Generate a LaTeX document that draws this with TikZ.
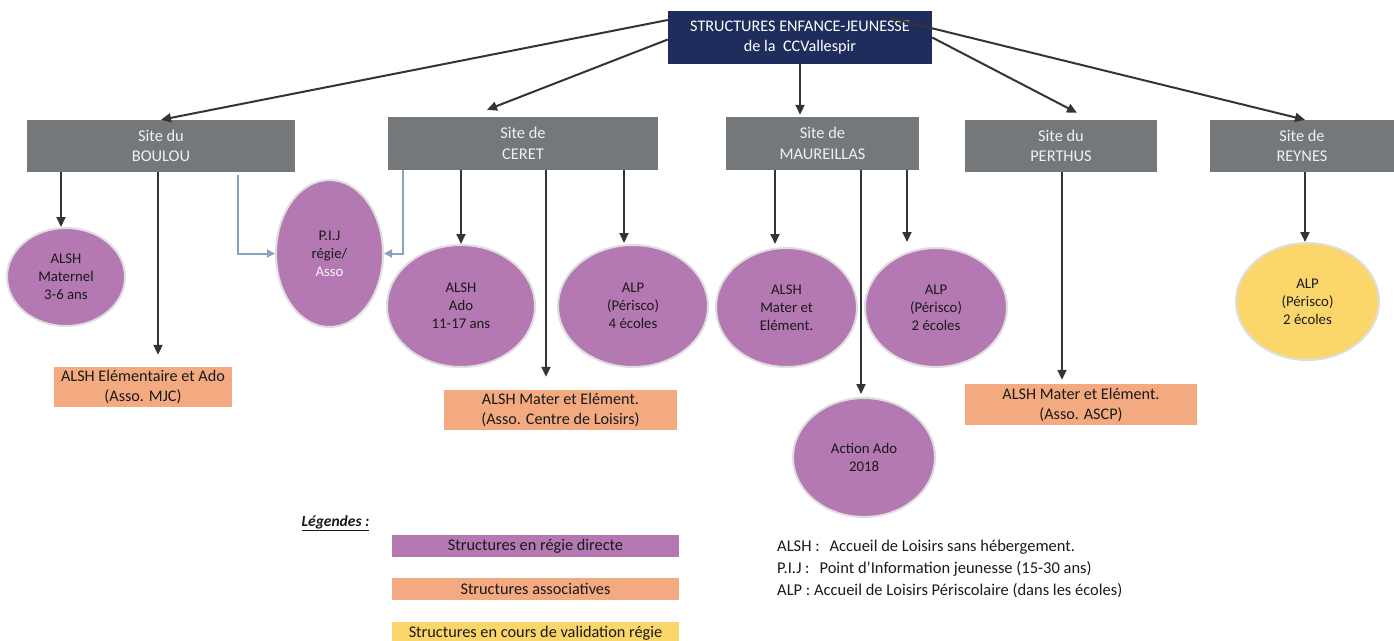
\documentclass[tikz,border=0pt]{standalone}
\usepackage{fontspec}
\setmainfont{Carlito}
\usetikzlibrary{shapes.geometric,arrows.meta,calc}
\definecolor{navy}{RGB}{31,45,92}
\definecolor{sitegray}{RGB}{117,120,123}
\definecolor{purp}{RGB}{180,120,178}
\definecolor{orng}{RGB}{244,170,128}
\definecolor{yell}{RGB}{250,214,107}
\definecolor{pijblue}{RGB}{140,163,190}
\definecolor{arrdark}{RGB}{52,52,52}
\definecolor{ringgray}{RGB}{222,222,222}
\definecolor{txtdark}{RGB}{26,26,26}
\tikzset{
  topbox/.style={fill=navy, text=white, inner sep=0pt, align=center,
    font=\fontsize{16.2}{20}\selectfont},
  sitebox/.style={fill=sitegray, text=white!94!black, inner sep=0pt, align=center,
    font=\fontsize{16.4}{20.5}\selectfont},
  assobox/.style={fill=orng, text=txtdark, inner sep=0pt, align=center,
    font=\fontsize{16.2}{20}\selectfont},
  struct/.style={ellipse, fill=purp, draw=ringgray, line width=2pt, inner sep=0pt,
    text=txtdark, align=center, font=\fontsize{14.8}{18}\selectfont},
  legbar/.style={inner sep=0pt, minimum width=287pt, minimum height=22pt,
    text=txtdark, font=\fontsize{16.3}{18}\selectfont},
  deftext/.style={anchor=west, inner sep=0pt, text=txtdark,
    font=\fontsize{16.5}{18}\selectfont},
  arr/.style={draw=arrdark, line width=2pt, -{Triangle[length=10pt,width=9pt]}},
  pijarr/.style={draw=pijblue, line width=2pt, -{Triangle[length=8pt,width=8pt]}}
}
\begin{document}
\begin{tikzpicture}[x=1pt,y=-1pt]
\useasboundingbox (0,0) rectangle (1394,640);

% boxes
\node[topbox, minimum width=264pt, minimum height=53pt] (top) at (800,37.5)
  {STRUCTURES ENFANCE-JEUNESSE\\de la\ \ CCVallespir};
\node[sitebox, minimum width=268pt, minimum height=52pt] (boulou) at (161,146) {Site du\\BOULOU};
\node[sitebox, minimum width=270pt, minimum height=53pt] (ceret) at (523,143.5) {Site de\\CERET};
\node[sitebox, minimum width=193pt, minimum height=53pt] (maur) at (822.5,143.5) {Site de\\MAUREILLAS};
\node[sitebox, minimum width=192pt, minimum height=52pt] (perthus) at (1061,146) {Site du\\PERTHUS};
\node[sitebox, minimum width=184pt, minimum height=52pt] (reynes) at (1302,146) {Site de\\REYNES};

% ellipses
\node[struct, minimum width=118pt, minimum height=98pt] (mat) at (66,277) {ALSH\\Maternel\\3-6 ans};
\node[struct, minimum width=107pt, minimum height=147pt] (pij) at (329.5,253.5) {P.I.J\\régie/\\\textcolor{white!92!purp}{Asso}};
\node[struct, minimum width=148pt, minimum height=122pt] (ado) at (461,306) {ALSH\\Ado\\11-17 ans};
\node[struct, minimum width=150pt, minimum height=122pt] (alpq) at (633,306) {ALP\\(Périsco)\\4 écoles};
\node[struct, minimum width=141pt, minimum height=119pt] (mel) at (786.5,307.5) {ALSH\\Mater et\\Elément.};
\node[struct, minimum width=142pt, minimum height=119pt] (alpd) at (936,307.5) {ALP\\(Périsco)\\2 écoles};
\node[struct, minimum width=142pt, minimum height=119pt] (act) at (864,457.5) {Action Ado\\2018};
\node[struct, fill=yell, minimum width=143pt, minimum height=117pt] (alpr) at (1307.5,301.5) {ALP\\(Périsco)\\2 écoles};

% associative boxes
\node[assobox, minimum width=178pt, minimum height=40pt] (mjc) at (143,387) {ALSH Elémentaire et Ado\\(Asso. MJC)};
\node[assobox, minimum width=233pt, minimum height=40pt] (cdl) at (560.5,410) {ALSH Mater et Elément.\\(Asso. Centre de Loisirs)};
\node[assobox, minimum width=232pt, minimum height=41pt] (ascp) at (1081,404.5) {ALSH Mater et Elément.\\(Asso. ASCP)};

% top-level connectors
\draw[arr] ([yshift=17.5pt]top.west) -- (boulou.north);
\draw[arr] ([yshift=-2pt]top.west) -- ([xshift=-36pt,yshift=7pt]ceret.north);
\draw[arr, shorten >=2pt] (top.south) -- (top.south |- maur.north);
\draw[arr] (top.east) -- ([xshift=16pt,yshift=7pt]perthus.north);
\draw[arr] ([xshift=-42pt,yshift=19.5pt]top.east) -- ([xshift=3pt]reynes.north);

% site connectors
\draw[arr] ([xshift=-5pt]mat.north |- boulou.south) -- ([xshift=-5pt]mat.north);
\draw[arr, shorten >=12pt] ([xshift=15pt]mjc.north |- boulou.south) -- ([xshift=15pt]mjc.north);
\draw[pijarr] ([xshift=77pt,yshift=-3pt]boulou.south) |- (pij.west);
\draw[pijarr] ([xshift=-120pt]ceret.south) |- (pij.east);
\draw[arr] (ado.north |- ceret.south) -- (ado.north);
\draw[arr, shorten >=13pt] ([xshift=-14.5pt]cdl.north |- ceret.south) -- ([xshift=-14.5pt]cdl.north);
\draw[arr] ([xshift=-9pt]alpq.north |- ceret.south) -- ([xshift=-9pt,yshift=1pt]alpq.north);
\draw[arr, shorten >=3pt] ([xshift=-11.5pt]mel.north |- maur.south) -- ([xshift=-11.5pt]mel.north);
\draw[arr, shorten >=3pt] ([xshift=-3pt]act.north |- maur.south) -- ([xshift=-3pt]act.north);
\draw[arr, shorten >=5pt] ([xshift=-29pt]alpd.north |- maur.south) -- ([xshift=-29pt]alpd.north);
\draw[arr, shorten >=4pt] ([xshift=-19pt]ascp.north |- perthus.south) -- ([xshift=-19pt]ascp.north);
\draw[arr] ([xshift=-2.5pt]alpr.north |- reynes.south) -- ([xshift=-2.5pt]alpr.north);

% legend
\node[inner sep=0pt, text=txtdark, font=\fontsize{15.5}{18}\selectfont] (legt) at (335.5,523)
  {\underline{\textbf{\textit{Légendes :}}}};
\node[legbar, fill=purp] (lega) at (535.5,546) {Structures en régie directe};
\node[legbar, fill=orng] (legb) at (535.5,589) {Structures associatives};
\node[legbar, fill=yell] (legc) at (535.5,633) {Structures en cours de validation régie};

\node[deftext] (defa) at (777,547) {ALSH :\hspace{0.6em}Accueil de Loisirs sans hébergement.};
\node[deftext] (defb) at (777,569) {P.I.J :\hspace{0.6em}Point d'Information jeunesse (15-30 ans)};
\node[deftext] (defc) at (777,591) {ALP : Accueil de Loisirs Périscolaire (dans les écoles)};
\end{tikzpicture}
\end{document}
